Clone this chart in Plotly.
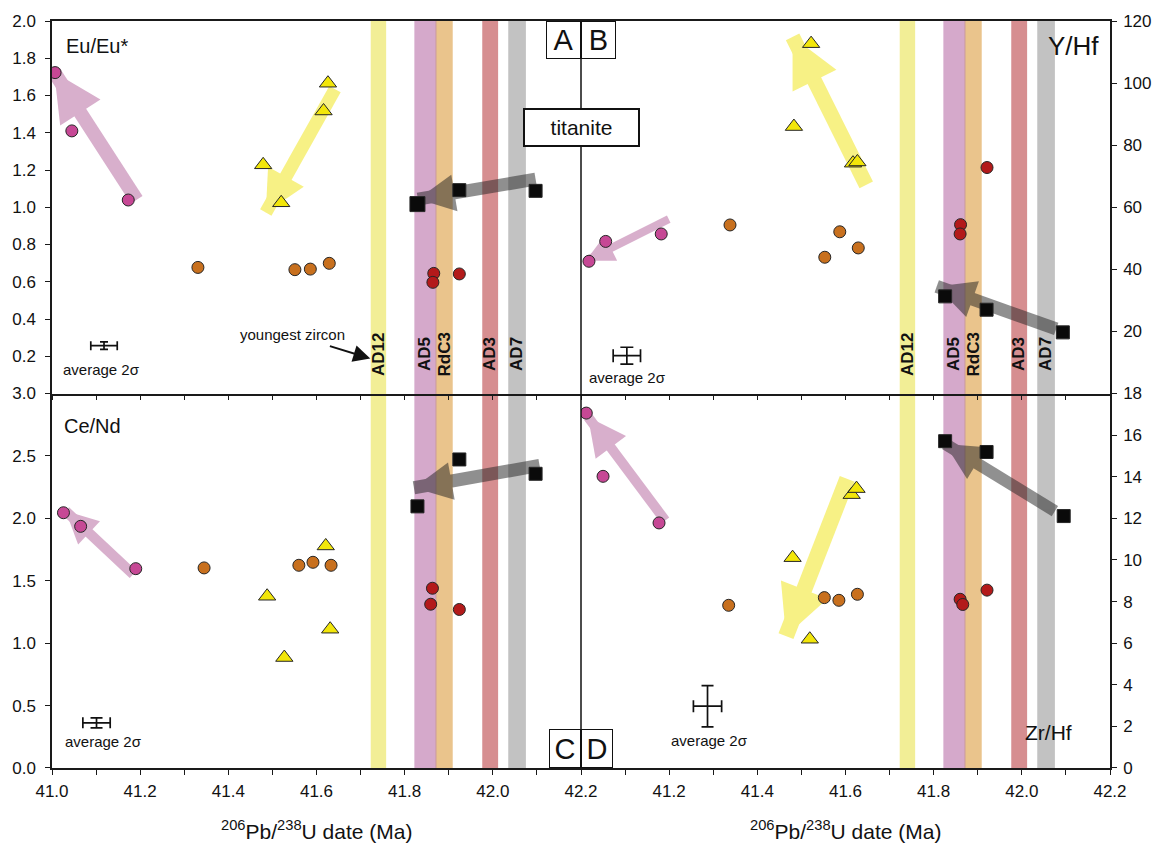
import plotly.graph_objects as go

FONT = "Liberation Sans, Arial, sans-serif"

# ------------------------------------------------------------------ data
# Panel A : Eu/Eu*  (top-left)
A_magenta_x = [41.007, 41.045, 41.173]
A_magenta_y = [1.723, 1.410, 1.039]
A_yellow_x = [41.479, 41.520, 41.616, 41.626]
A_yellow_y = [1.228, 1.024, 1.517, 1.666]
A_orange_x = [41.331, 41.551, 41.586, 41.629]
A_orange_y = [0.677, 0.665, 0.668, 0.699]
A_red_x = [41.866, 41.864, 41.924]
A_red_y = [0.645, 0.597, 0.642]
A_black_x = [41.829, 41.924, 42.097]
A_black_y = [1.017, 1.092, 1.088]

# Panel B : Y/Hf  (top-right)
B_magenta_x = [41.018, 41.056, 41.182]
B_magenta_y = [42.6, 49.0, 51.4]
B_yellow_x = [41.522, 41.483, 41.617, 41.627]
B_yellow_y = [112.7, 86.0, 74.2, 74.6]
B_orange_x = [41.338, 41.553, 41.587, 41.629]
B_orange_y = [54.3, 43.9, 52.1, 46.9]
B_red_x = [41.921, 41.861, 41.860]
B_red_y = [72.8, 54.4, 51.4]
B_black_x = [41.826, 41.920, 42.093]
B_black_y = [31.3, 27.0, 19.7]

# Panel C : Ce/Nd  (bottom-left)
C_magenta_x = [41.026, 41.065, 41.190]
C_magenta_y = [2.045, 1.936, 1.597]
C_yellow_x = [41.488, 41.527, 41.621, 41.631]
C_yellow_y = [1.376, 0.885, 1.779, 1.112]
C_orange_x = [41.345, 41.560, 41.592, 41.633]
C_orange_y = [1.603, 1.624, 1.648, 1.624]
C_red_x = [41.863, 41.859, 41.924]
C_red_y = [1.440, 1.312, 1.270]
C_black_x = [41.829, 41.924, 42.097]
C_black_y = [2.096, 2.472, 2.357]

# Panel D : Zr/Hf  (bottom-right)
D_magenta_x = [41.012, 41.050, 41.177]
D_magenta_y = [17.06, 14.02, 11.78]
D_yellow_x = [41.480, 41.519, 41.614, 41.625]
D_yellow_y = [10.11, 6.19, 13.14, 13.43]
D_orange_x = [41.335, 41.552, 41.585, 41.627]
D_orange_y = [7.82, 8.19, 8.06, 8.35]
D_red_x = [41.921, 41.860, 41.866]
D_red_y = [8.55, 8.11, 7.86]
D_black_x = [41.826, 41.920, 42.095]
D_black_y = [15.71, 15.19, 12.11]

# trend arrows: tail -> tip
A_arrow_tail_x = [41.192, 41.642, 42.097]
A_arrow_tail_y = [1.040, 1.634, 1.151]
A_arrow_tip_x = [41.005, 41.485, 41.830]
A_arrow_tip_y = [1.725, 0.972, 1.044]
B_arrow_tail_x = [41.199, 41.647, 42.078]
B_arrow_tail_y = [56.2, 67.2, 20.8]
B_arrow_tip_x = [41.011, 41.480, 41.807]
B_arrow_tip_y = [42.8, 114.9, 34.5]
C_arrow_tail_x = [41.184, 42.106]
C_arrow_tail_y = [1.552, 2.424]
C_arrow_tip_x = [41.031, 41.821]
C_arrow_tip_y = [2.059, 2.245]
D_arrow_tail_x = [41.191, 41.604, 42.075]
D_arrow_tail_y = [11.90, 13.90, 12.35]
D_arrow_tip_x = [41.016, 41.465, 41.826]
D_arrow_tip_y = [16.87, 6.34, 15.58]

# average 2-sigma crosses: centre, +-x, +-y
err_cx = [41.118, 41.104, 41.101, 41.287]
err_cy = [0.257, 12.2, 0.362, 2.97]
err_ex = [0.030, 0.031, 0.031, 0.032]
err_ey = [0.020, 2.7, 0.040, 0.99]

# vertical bands (zircon sample ages)
band_names = ["AD12", "AD5", "RdC3", "AD3", "AD7"]
band_x0 = [41.723, 41.822, 41.871, 41.976, 42.035]
band_x1 = [41.758, 41.871, 41.909, 42.012, 42.075]

x_ticks = [41.0, 41.1, 41.2, 41.3, 41.4, 41.5, 41.6, 41.7, 41.8, 41.9, 42.0, 42.1, 42.2]
x_ticklabels_left = ["41.0", "", "41.2", "", "41.4", "", "41.6", "", "41.8", "", "42.0", "", "42.2"]
x_ticklabels_right = ["", "", "41.2", "", "41.4", "", "41.6", "", "41.8", "", "42.0", "", "42.2"]
yA_ticks = [0.0, 0.2, 0.4, 0.6, 0.8, 1.0, 1.2, 1.4, 1.6, 1.8, 2.0]
yA_labels = ["", "0.2", "0.4", "0.6", "0.8", "1.0", "1.2", "1.4", "1.6", "1.8", "2.0"]
yC_ticks = [0.0, 0.5, 1.0, 1.5, 2.0, 2.5, 3.0]
yC_labels = ["0.0", "0.5", "1.0", "1.5", "2.0", "2.5", "3.0"]
yB_ticks = [0, 20, 40, 60, 80, 100, 120]
yB_labels = ["", "20", "40", "60", "80", "100", "120"]
yD_ticks = [0, 2, 4, 6, 8, 10, 12, 14, 16, 18]
yD_labels = ["0", "2", "4", "6", "8", "10", "12", "14", "16", "18"]

# ------------------------------------------------------------------ style
MAGENTA = "#c64895"
YELLOW = "#f2e60a"
ORANGE = "#c8701e"
RED = "#b31a1a"
BLACK = "#0a0a0a"
band_colors = ["#f2ee96", "#d5a9cb", "#eac48c", "#d68e90", "#c2c2c2"]
PINK_ARROW = "#d8afcc"
YELLOW_ARROW = "#f7f185"
GRAY_ARROW = "#222222"

fig = go.Figure()

# axes ids:  A -> x3/y3, B -> x4/y4, C -> x/y, D -> x2/y2
PANELS = {
    "A": ("x3", "y3"),
    "B": ("x4", "y4"),
    "C": ("x", "y"),
    "D": ("x2", "y2"),
}


def add_arrow(panel, tx, ty, hx, hy, width, head, color, opacity):
    xa, ya = PANELS[panel]
    fig.add_trace(go.Scatter(
        x=[tx, hx], y=[ty, hy], xaxis=xa, yaxis=ya, mode="lines+markers",
        line=dict(color=color, width=width, backoff=[0, head * 0.5]),
        marker=dict(symbol="arrow-up", size=[0, head], color=color, opacity=1,
                    angleref="previous", line=dict(width=0)),
        opacity=opacity, showlegend=False, hoverinfo="skip"))


# arrows (drawn first so markers sit on top)
arrow_specs = {
    "A": (A_arrow_tail_x, A_arrow_tail_y, A_arrow_tip_x, A_arrow_tip_y,
          [(14, 48, PINK_ARROW, 1.0), (13, 41, YELLOW_ARROW, 1.0), (13, 37, GRAY_ARROW, 0.5)]),
    "B": (B_arrow_tail_x, B_arrow_tail_y, B_arrow_tip_x, B_arrow_tip_y,
          [(8, 28, PINK_ARROW, 1.0), (15, 49, YELLOW_ARROW, 1.0), (13, 38, GRAY_ARROW, 0.5)]),
    "C": (C_arrow_tail_x, C_arrow_tail_y, C_arrow_tip_x, C_arrow_tip_y,
          [(10, 32, PINK_ARROW, 1.0), (13, 38, GRAY_ARROW, 0.5)]),
    "D": (D_arrow_tail_x, D_arrow_tail_y, D_arrow_tip_x, D_arrow_tip_y,
          [(10, 38, PINK_ARROW, 1.0), (16, 50, YELLOW_ARROW, 1.0), (12, 37, GRAY_ARROW, 0.5)]),
}
for p, (tx, ty, hx, hy, styles) in arrow_specs.items():
    for i, (w, h, c, o) in enumerate(styles):
        add_arrow(p, tx[i], ty[i], hx[i], hy[i], w, h, c, o)

# average 2 sigma crosses
err_caps = [(4.5, 4), (6.5, 6.5), (5.5, 6), (6, 6)]
for i, p in enumerate(["A", "B", "C", "D"]):
    xa, ya = PANELS[p]
    fig.add_trace(go.Scatter(
        x=[err_cx[i]], y=[err_cy[i]], xaxis=xa, yaxis=ya, mode="markers",
        marker=dict(size=2, color="rgba(0,0,0,0)"),
        error_x=dict(type="data", array=[err_ex[i]], width=err_caps[i][0], thickness=1.7, color="#111"),
        error_y=dict(type="data", array=[err_ey[i]], width=err_caps[i][1], thickness=1.7, color="#111"),
        showlegend=False, hoverinfo="skip"))


def add_points(panel, xs, ys, symbol, color, size):
    xa, ya = PANELS[panel]
    fig.add_trace(go.Scatter(
        x=xs, y=ys, xaxis=xa, yaxis=ya, mode="markers",
        marker=dict(symbol=symbol, color=color, size=size, opacity=1,
                    line=dict(color="#262626", width=1)),
        showlegend=False, hoverinfo="skip"))


series = {
    "A": (A_orange_x, A_orange_y, A_red_x, A_red_y, A_magenta_x, A_magenta_y,
          A_yellow_x, A_yellow_y, A_black_x, A_black_y),
    "B": (B_orange_x, B_orange_y, B_red_x, B_red_y, B_magenta_x, B_magenta_y,
          B_yellow_x, B_yellow_y, B_black_x, B_black_y),
    "C": (C_orange_x, C_orange_y, C_red_x, C_red_y, C_magenta_x, C_magenta_y,
          C_yellow_x, C_yellow_y, C_black_x, C_black_y),
    "D": (D_orange_x, D_orange_y, D_red_x, D_red_y, D_magenta_x, D_magenta_y,
          D_yellow_x, D_yellow_y, D_black_x, D_black_y),
}
for p, s in series.items():
    add_points(p, s[0], s[1], "circle", ORANGE, 12)
    add_points(p, s[2], s[3], "circle", RED, 12)
    add_points(p, s[4], s[5], "circle", MAGENTA, 12)
    add_points(p, s[6], s[7], "triangle-up", YELLOW, 15)
    sq = [15, 13, 13] if p == "A" else 13
    add_points(p, s[8], s[9], "square", BLACK, sq)

# ------------------------------------------------------------------ shapes
shapes = []
for xref in ["x", "x2"]:
    for i in range(len(band_names)):
        shapes.append(dict(type="rect", xref=xref, yref="paper", x0=band_x0[i], x1=band_x1[i],
                           y0=0, y1=1, fillcolor=band_colors[i], line=dict(width=0), layer="below"))
    shapes.append(dict(type="line", xref=xref, yref="paper", x0=band_x1[1], x1=band_x1[1],
                       y0=0, y1=1, line=dict(color="#c99a9c", width=1), layer="below"))
shapes.append(dict(type="line", xref="paper", yref="paper", x0=0.5, x1=0.5, y0=0, y1=1,
                   line=dict(color="#111", width=1.5), layer="above"))

# ------------------------------------------------------------------ annotations
ann = []
label_bottom = [0.522, 0.529, 0.522, 0.529, 0.529]
for xref in ["x3", "x4"]:
    for i, name in enumerate(band_names):
        ann.append(dict(text="<b>%s</b>" % name, xref=xref, yref="paper",
                        x=(band_x0[i] + band_x1[i]) / 2, y=label_bottom[i],
                        xanchor="center", yanchor="bottom", textangle=-90, showarrow=False,
                        font=dict(family=FONT, size=17, color="#111")))

ratio_labels = [("Eu/Eu*", 0.0116, 0.9666, "left", 20),
                ("Y/Hf", 0.9915, 0.9666, "right", 26),
                ("Ce/Nd", 0.0094, 0.4579, "left", 20),
                ("Zr/Hf", 0.9662, 0.0475, "right", 21)]
for t, x, y, xa, fs in ratio_labels:
    ann.append(dict(text=t, xref="paper", yref="paper", x=x, y=y, xanchor=xa, yanchor="middle",
                    showarrow=False, font=dict(family=FONT, size=fs, color="#111")))

avg_pos = [("A", 41.112, 0.127), ("B", 41.106, 5.24), ("C", 41.116, 0.210), ("D", 41.292, 1.344)]
for p, x, y in avg_pos:
    xa, ya = PANELS[p]
    ann.append(dict(text="average 2σ", xref=xa, yref=ya, x=x, y=y, xanchor="center",
                    yanchor="middle", showarrow=False, font=dict(family=FONT, size=15, color="#111")))

ann.append(dict(text="youngest zircon", xref="x3", yref="y3", x=41.545, y=0.316,
                xanchor="center", yanchor="middle", showarrow=False,
                font=dict(family=FONT, size=15, color="#111")))
ann.append(dict(text="", xref="x3", yref="y3", x=41.722, y=0.188, axref="x3", ayref="y3",
                ax=41.627, ay=0.257, showarrow=True, arrowhead=2, arrowwidth=2, arrowsize=1.7,
                arrowcolor="#111", standoff=0))

box_font = dict(family=FONT, size=29, color="#111")
ann.append(dict(text="A", xref="paper", yref="paper", x=0.5, y=1, xanchor="right", yanchor="top",
                width=33, height=36, borderpad=0, bordercolor="#111", borderwidth=1,
                bgcolor="white", showarrow=False, font=box_font))
ann.append(dict(text="B", xref="paper", yref="paper", x=0.5, y=1, xanchor="left", yanchor="top",
                width=33, height=36, borderpad=0, bordercolor="#111", borderwidth=1,
                bgcolor="white", showarrow=False, font=box_font))
ann.append(dict(text="C", xref="paper", yref="paper", x=0.5, y=0, xanchor="right", yanchor="bottom",
                width=30, height=37, borderpad=0, bordercolor="#111", borderwidth=1,
                bgcolor="white", showarrow=False, font=box_font))
ann.append(dict(text="D", xref="paper", yref="paper", x=0.5, y=0, xanchor="left", yanchor="bottom",
                width=30, height=37, borderpad=0, bordercolor="#111", borderwidth=1,
                bgcolor="white", showarrow=False, font=box_font))
ann.append(dict(text="titanite", xref="paper", yref="paper", x=0.5, y=0.8574, xanchor="center",
                yanchor="middle", width=113, height=35, borderpad=0, bordercolor="#111",
                borderwidth=2, bgcolor="white", showarrow=False,
                font=dict(family=FONT, size=21, color="#111")))

for x in [0.25, 0.75]:
    ann.append(dict(text="<sup>206</sup>Pb/<sup>238</sup>U date (Ma)", xref="paper", yref="paper",
                    x=x, y=-0.083, xanchor="center", yanchor="middle", showarrow=False,
                    font=dict(family=FONT, size=21, color="#111")))

# ------------------------------------------------------------------ axes
SPLIT = 0.5013
tickfont = dict(family=FONT, size=17, color="#111")
xbase = dict(range=[41.0, 42.2], showline=True, linecolor="#1a1a1a", linewidth=1.5,
             ticks="outside", ticklen=5, tickwidth=1.3, tickcolor="#1a1a1a",
             showgrid=False, zeroline=False, tickfont=tickfont, tickvals=x_ticks,
             fixedrange=True)
ybase = dict(showline=True, linecolor="#1a1a1a", linewidth=1.5, ticks="outside", ticklen=5,
             tickwidth=1.3, tickcolor="#1a1a1a", showgrid=False, zeroline=False,
             tickfont=tickfont, fixedrange=True)

fig.update_layout(
    width=1164, height=843,
    margin=dict(l=52, r=48, t=20, b=75),
    paper_bgcolor="white", plot_bgcolor="white",
    showlegend=False,
    xaxis=dict(xbase, domain=[0, 0.5], anchor="y", ticktext=x_ticklabels_left, ticklabelstandoff=2),
    xaxis2=dict(xbase, domain=[0.5, 1], anchor="y2", ticktext=x_ticklabels_right, ticklabelstandoff=2),
    xaxis3=dict(xbase, domain=[0, 0.5], anchor="y3", showticklabels=False, mirror=True),
    xaxis4=dict(xbase, domain=[0.5, 1], anchor="y4", showticklabels=False, mirror=True),
    yaxis=dict(ybase, domain=[0, SPLIT], anchor="x", range=[0, 3],
               tickvals=yC_ticks, ticktext=yC_labels, ticklabelstandoff=6),
    yaxis2=dict(ybase, domain=[0, SPLIT], anchor="x2", side="right", range=[0, 18],
                tickvals=yD_ticks, ticktext=yD_labels, ticklabelstandoff=3),
    yaxis3=dict(ybase, domain=[SPLIT, 1], anchor="x3", range=[0, 2],
                tickvals=yA_ticks, ticktext=yA_labels, ticklabelstandoff=6),
    yaxis4=dict(ybase, domain=[SPLIT, 1], anchor="x4", side="right", range=[0, 120],
                tickvals=yB_ticks, ticktext=yB_labels, ticklabelstandoff=3),
    shapes=shapes,
    annotations=ann,
)

fig.write_html("out.html")
